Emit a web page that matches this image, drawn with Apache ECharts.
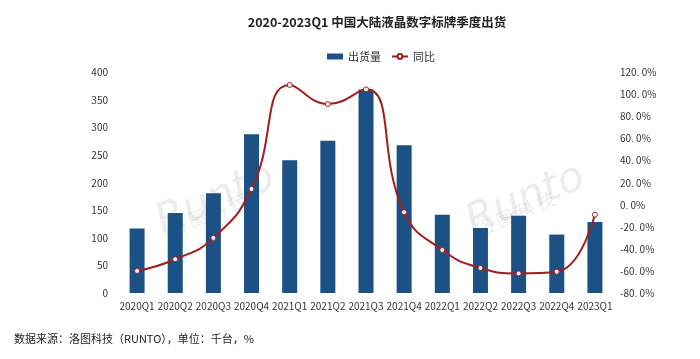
<!DOCTYPE html>
<html><head><meta charset="utf-8">
<script src="https://cdn.jsdelivr.net/npm/echarts@6/dist/echarts.min.js"></script>
<style>html,body{margin:0;padding:0;background:#fff}#c{width:700px;height:359px}</style>
</head><body><div id="c"></div>
<script>
const categories = ['2020Q1','2020Q2','2020Q3','2020Q4','2021Q1','2021Q2','2021Q3','2021Q4','2022Q1','2022Q2','2022Q3','2022Q4','2023Q1'];
const shipments = [117, 145, 181, 288, 241, 276, 369, 268, 142, 118, 140, 106, 129];
const yoy = [-60, -49.4, -30, 14.3, 108.7, 91.4, 104.7, -6.8, -41, -57.3, -62.2, -60.7, -9];
const leftTicks = [0, 50, 100, 150, 200, 250, 300, 350, 400];
const rightTicks = [-80, -60, -40, -20, 0, 20, 40, 60, 80, 100, 120];

const font = '"Microsoft YaHei","Noto Sans CJK SC",sans-serif';
const chart = echarts.init(document.getElementById('c'));
chart.setOption({
  animation: false,
  backgroundColor: '#fff',
  title: {
    text: '2020-2023Q1 中国大陆液晶数字标牌季度出货',
    left: 372, top: 11, textAlign: 'center',
    textStyle: {fontSize: 12.5, fontWeight: 'bold', color: '#222', fontFamily: font}
  },
  legend: {
    left: 322, top: 46, itemGap: 10, itemWidth: 16, itemHeight: 6,
    textStyle: {fontSize: 11, color: '#333', fontFamily: font},
    data: [{name: '出货量', icon: 'rect'}, {name: '同比'}]
  },
  graphic: [
    {type: 'text', left: 14, top: 333, style: {text: '数据来源：洛图科技（RUNTO），单位：千台，%', fontSize: 11, fill: '#222', fontFamily: font}},
    {type: 'text', x: 150, y: 205, rotation: 0.4, style: {text: 'Runto', fontSize: 42, fontStyle: 'italic', fill: 'rgba(200,200,200,0.35)', fontFamily: 'DejaVu Sans'}},
    {type: 'text', x: 165, y: 222, rotation: 0.4, style: {text: '洛 图 科 技', fontSize: 18, fill: 'rgba(200,200,200,0.35)', fontFamily: font}},
    {type: 'text', x: 460, y: 205, rotation: 0.4, style: {text: 'Runto', fontSize: 42, fontStyle: 'italic', fill: 'rgba(200,200,200,0.35)', fontFamily: 'DejaVu Sans'}},
    {type: 'text', x: 473, y: 222, rotation: 0.4, style: {text: '洛 图 科 技', fontSize: 18, fill: 'rgba(200,200,200,0.35)', fontFamily: font}}
  ],
  grid: {left: 118, right: 86, top: 72.5, bottom: 66},
  xAxis: {
    type: 'category', data: categories,
    axisLine: {show: false}, axisTick: {show: false},
    axisLabel: {fontSize: 10, color: '#333', margin: 8, interval: 0, fontFamily: font}
  },
  yAxis: [
    {type: 'value', min: 0, max: 400, interval: 50,
     axisLine: {show: false}, axisTick: {show: false}, splitLine: {show: false},
     axisLabel: {fontSize: 10, color: '#333', margin: 10, fontFamily: font}},
    {type: 'value', min: -80, max: 120, interval: 20,
     axisLine: {show: false}, axisTick: {show: false}, splitLine: {show: false},
     axisLabel: {fontSize: 10, color: '#333', margin: 6, fontFamily: font,
       formatter: v => v.toFixed(1).replace('.', '. ') + '%'}}
  ],
  series: [
    {name: '出货量', type: 'bar', data: shipments, barWidth: 15,
     itemStyle: {color: '#1B5184'}},
    {name: '同比', type: 'line', yAxisIndex: 1, data: yoy, smooth: 0.5,
     symbol: 'circle', symbolSize: 5,
     lineStyle: {color: '#A01E1E', width: 2},
     itemStyle: {color: '#fff', borderColor: '#A01E1E', borderWidth: 1}}
  ]
});
</script></body></html>
